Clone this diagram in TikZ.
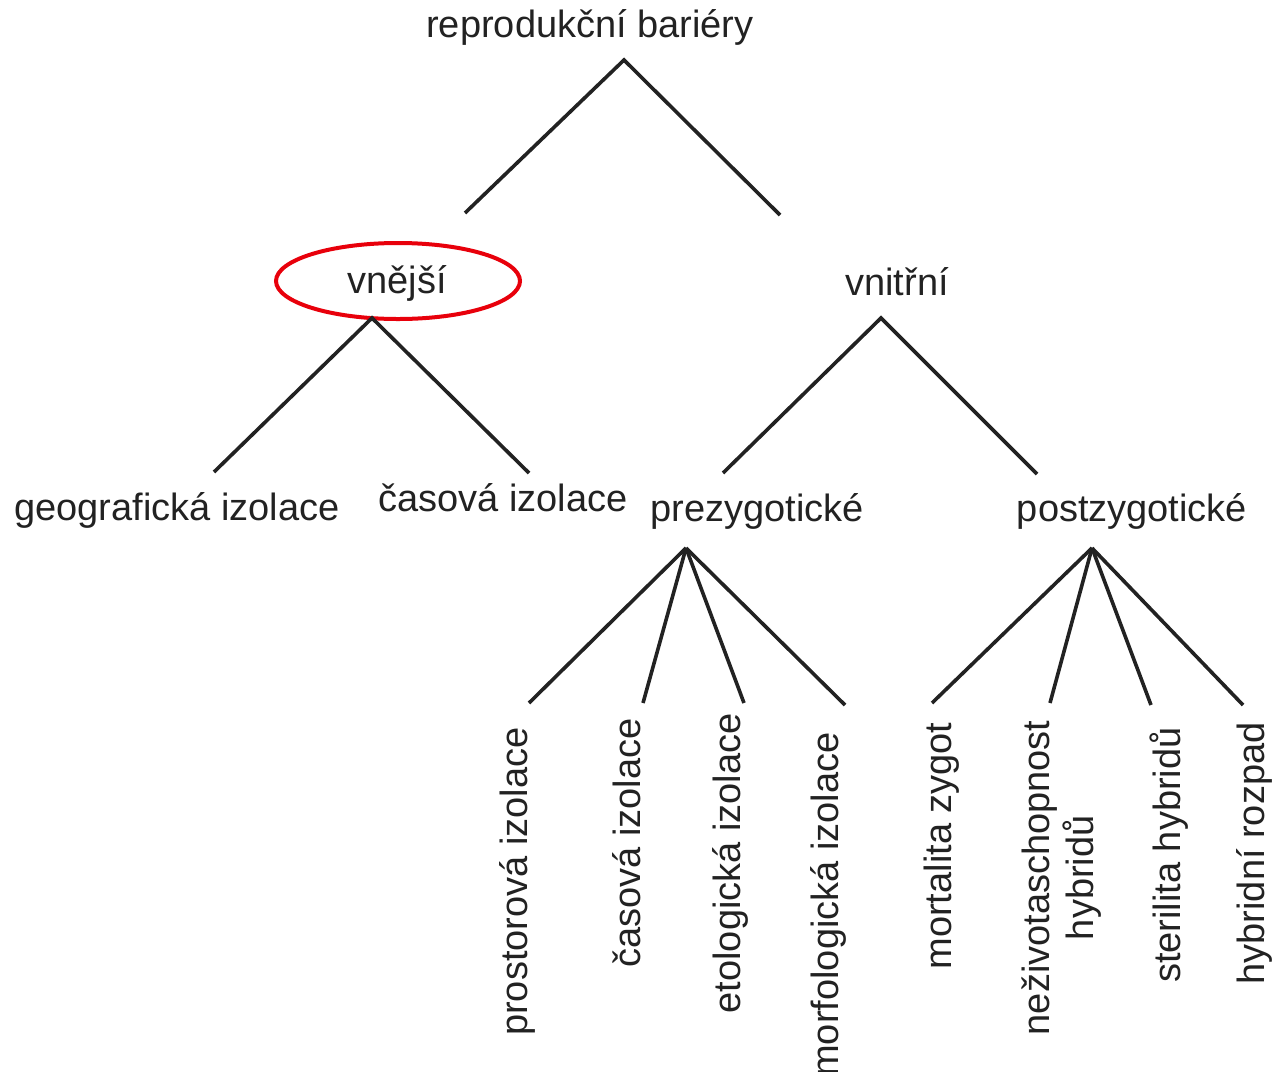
\documentclass[tikz,border=0pt]{standalone}
\usepackage{fontspec}
\setmainfont{Liberation Sans}
\usepackage{xcolor}
\definecolor{ink}{HTML}{222222}
\definecolor{ringred}{HTML}{E8000B}
\usetikzlibrary{positioning}

\begin{document}
\begin{tikzpicture}[
  x=0.5pt,y=-0.5pt,
  lbl/.style={inner sep=0pt,anchor=base,text=ink,font=\fontsize{19}{21}\selectfont},
  leaf/.style={inner sep=0pt,rotate=90,anchor=east,align=center,text=ink,font=\fontsize{19}{22}\selectfont},
  edge/.style={draw=ink,line width=1.8pt}]
\useasboundingbox (0,0) rectangle (1272,1071);
% top level
\node[lbl] (rb) at (590,37) {reprodukční bariéry};
\node[lbl] (vnejsi) at (397,293) {vnější};
\node[lbl] (vnitrni) at (897,295) {vnitřní};
\draw[draw=ringred,line width=2pt] (398,281) ellipse [x radius=122,y radius=38];
% second level
\node[lbl] (geo) at (177,520) {geografická izolace};
\node[lbl] (cas) at (503,511) {časová izolace};
\node[lbl] (pre) at (757,521) {prezygotické};
\node[lbl] (post) at (1132,521) {postzygotické};
% leaves
\node[leaf] (pro) at (517,727) {prostorová izolace};
\node[leaf] (cas2) at (627,718) {časová izolace};
\node[leaf] (eto) at (730,713) {etologická izolace};
\node[leaf] (mor) at (828,732) {morfologická izolace};
\node[leaf] (mort) at (942,722) {mortalita zygot};
\node[leaf] (nez) at (1062,720) {neživotaschopnost\\hybridů};
\node[leaf] (ster) at (1169,727) {sterilita hybridů};
\node[leaf] (rozp) at (1254,722) {hybridní rozpad};
% fork points
\coordinate (rb-f) at (624,60);
\coordinate (vnejsi-f) at (372,318);
\coordinate (vnitrni-f) at (881,318);
\coordinate (pre-f) at (686,548);
\coordinate (post-f) at (1092,548);
% line ends
\coordinate (vnejsi-t) at (465,213);
\coordinate (vnitrni-t) at (780,215);
\coordinate (geo-t) at (214,472);
\coordinate (cas-t) at (529,473);
\coordinate (pre-t) at (723,473);
\coordinate (post-t) at (1037,474);
\coordinate (pro-t) at (529,703);
\coordinate (cas2-t) at (643,703);
\coordinate (eto-t) at (744,703);
\coordinate (mor-t) at (845,705);
\coordinate (mort-t) at (932,703);
\coordinate (nez-t) at (1050,703);
\coordinate (ster-t) at (1151,705);
\coordinate (rozp-t) at (1243,705);
\draw[edge] (vnejsi-t) -- (rb-f) -- (vnitrni-t);
\draw[edge] (geo-t) -- (vnejsi-f) -- (cas-t);
\draw[edge] (pre-t) -- (vnitrni-f) -- (post-t);
\foreach \c in {pro,cas2,eto,mor}
  \draw[edge] (pre-f) -- (\c-t);
\foreach \c in {mort,nez,ster,rozp}
  \draw[edge] (post-f) -- (\c-t);
\end{tikzpicture}
\end{document}
